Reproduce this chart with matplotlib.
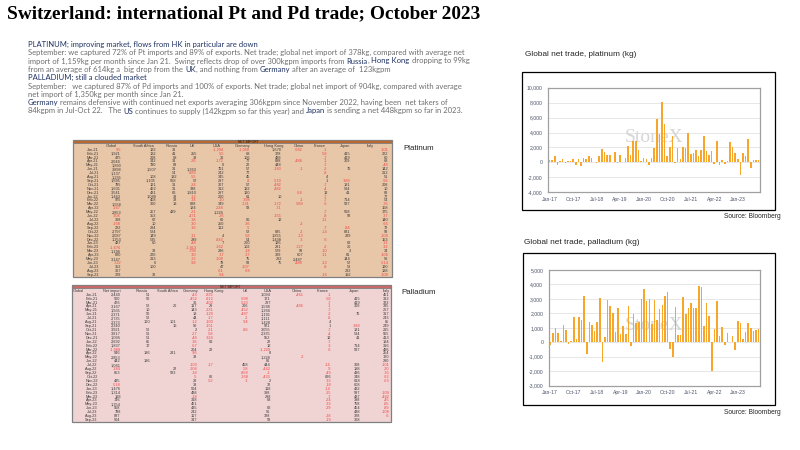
import matplotlib
matplotlib.use('Agg')
import matplotlib.pyplot as plt
from matplotlib.patches import Rectangle
from matplotlib.ticker import FuncFormatter

# ---------------- data ----------------
chart_months = 81  # Jan-17 .. Sep-23
x_tick_idx = [0, 9, 18, 27, 36, 45, 54, 63, 72]
x_tick_labels = ['Jan-17', 'Oct-17', 'Jul-18', 'Apr-19', 'Jan-20', 'Oct-20', 'Jul-21', 'Apr-22', 'Jan-23']

pt_net = [350, 350, 900, -300, 150, 450, -100, 150, 150, 450, -400, 450,
          -450, 600, 450, 850, 600, 100, -50, 800, 1800, 1450, 950, 950,
          50, 1350, -100, 1000, 50, 650, 2200, 1000, 2850, 2800, 1650, 150,
          650, 500, -300, 650, 1950, 5750, 3800, 8050, 5100, 850, 2050, 3600,
          -95, 1921, 475, 2046, 1893, 3898, 1137, 1295, 1695, 795, 1631, 3541,
          1463, 975, 1558, -167, 2853, -304, 308, -168, 222, 2797, 2087, 1253,
          487, -1676, 1196, 820, 3147, -722, 352, 367, 378]
pd_net = [-180, 670, 1010, 670, 90, 1220, 850, -140, 115, 1750, 250, 1770,
          1540, 3230, -810, 1380, 1220, 810, 1430, 3090, -1360, 390, 2900, 2530,
          2050, 740, 2370, 550, 1150, 580, 2510, -280, 1960, 1360, 1380, 2970,
          3660, 2830, 2970, 1270, 2900, 1540, 2330, 2600, 3230, 3500, -460, -1010,
          2440, 500, 476, 3167, 1935, 2371, 2735, 2373, 2340, 3921, 3817, 1096,
          2692, 1837, -1968, 946, 2853, 442, 1041, -184, 653, 0, 435, -518,
          1476, 1314, 198, 746, 1354, 958, 798, 837, 904]
pt_yticks = [-4000, -2000, 0, 2000, 4000, 6000, 8000, 10000]
pd_yticks = [-3000, -2000, -1000, 0, 1000, 2000, 3000, 4000, 5000]

table_months = ['Jan-21', 'Feb-21', 'Mar-21', 'Apr-21', 'May-21', 'Jun-21', 'Jul-21', 'Aug-21',
                'Sep-21', 'Oct-21', 'Nov-21', 'Dec-21', 'Jan-22', 'Feb-22', 'Mar-22', 'Apr-22',
                'May-22', 'Jun-22', 'Jul-22', 'Aug-22', 'Sep-22', 'Oct-22', 'Nov-22', 'Dec-22',
                'Jan-23', 'Feb-23', 'Mar-23', 'Apr-23', 'May-23', 'Jun-23', 'Jul-23', 'Aug-23', 'Sep-23']

pt_headers = ['Global', 'South Africa', 'Russia', 'UK', 'USA', 'Germany', 'Hong Kong',
              'China', 'France', 'Japan', 'Italy']
pt_rows = [
    ['-95', '122', '31', '', '-1,294', '-1,050', '1,678', '-682', '-1', '', '-101'],
    ['1,921', '132', '41', '255', '-55', '68', '378', '', '-58', '415', '222'],
    ['475', '208', '68', '38', '36', '106', '488', '', '-7', '419', '60'],
    ['2,046', '342', '31', '-26', '-172', '77', '888', '-488', '-1', '309', '68'],
    ['1,893', '780', '83', '', '0', '22', '448', '', '-7', '', '-48'],
    ['3,898', '1,507', '31', '1,363', '701', '57', '-183', '-1', '-2', '76', '142'],
    ['1,137', '', '54', '-883', '242', '77', '', '', '-8', '', '212'],
    ['1,295', '108', '182', '-55', '345', '45', '', '', '4', '', '51'],
    ['1,695', '1,105', '568', '57', '297', '-8', '-519', '', '1', '-389', '-58'],
    ['795', '121', '31', '-24', '307', '57', '-482', '', '-7', '181', '208'],
    ['1,631', '462', '31', '338', '312', '122', '-482', '', '-4', '534', '10'],
    ['3,541', '431', '66', '1,810', '297', '120', '', '-64', '12', '41', '83'],
    ['1,463', '1,088', '38', '-12', '200', '61', '10', '', '-7', '', '77'],
    ['975', '408', '38', '-34', '-10', '-398', '', '-1', '-7', '714', '54'],
    ['1,558', '300', '18', '888', '349', '-131', '-172', '-589', '-6', '587', '-76'],
    ['-167', '', '', '184', '-248', '58', '-71', '', '', '', '158'],
    ['2,853', '257', '429', '-21', '1,226', '', '', '', '-7', '568', '175'],
    ['-304', '353', '', '-471', '-26', '', '-155', '', '-8', '93', '-37'],
    ['308', '67', '', '-38', '80', '66', '12', '', '-11', '', '140'],
    ['-168', '10', '', '-30', '250', '-36', '', '-2', '', '', '-66'],
    ['222', '284', '', '-36', '112', '-5', '', '', '-7', '-84', '72'],
    ['2,797', '524', '', '', '', '52', '885', '-2', '-14', '881', '93'],
    ['2,087', '149', '', '-11', '4', '-58', '1,855', '-13', '', '289', '-109'],
    ['1,253', '535', '', '289', '-843', '54', '1,438', '-3', '-6', '', '153'],
    ['487', '60', '', '-48', '7', '260', '126', '', '', '62', '-31'],
    ['-1,676', '', '', '-1,813', '-162', '102', '281', '-727', '-2', '26', '-32'],
    ['1,196', '33', '', '-798', '286', '-18', '579', '93', '-10', '3', '34'],
    ['820', '220', '', '-30', '-37', '-37', '399', '607', '-11', '81', '-106'],
    ['3,147', '213', '', '-72', '-108', '75', '292', '2,487', '', '144', '96'],
    ['-722', '6', '', '-98', '79', '93', '75', '-488', '-13', '57', '-514'],
    ['352', '100', '', '', '47', '-107', '', '', '-8', '53', '120'],
    ['367', '', '', '', '-61', '-68', '', '', '', '232', '188'],
    ['378', '33', '', '', '-94', '', '', '', '-16', '192', '-108'],
]

pd_headers = ['Global', 'Net import', 'Russia', 'South Africa', 'Germany', 'Hong Kong', 'UK',
              'USA', 'China', 'France', 'Japan', 'Italy']
pd_rows = [
    ['2,440', '51', '', '-43', '-835', '', '1,094', '-461', '-1', '', '451'],
    ['500', '50', '', '-452', '-812', '-698', '171', '', '-58', '415', '313'],
    ['476', '', '', '36', '-402', '-523', '237', '', '-7', '419', '323'],
    ['3,167', '52', '26', '117', '29', '206', '1,588', '-486', '-1', '309', '335'],
    ['1,935', '10', '', '143', '-231', '-452', '1,266', '', '-7', '', '267'],
    ['2,371', '50', '', '18', '-129', '-487', '1,191', '', '-2', '76', '317'],
    ['2,735', '52', '', '44', '-17', '-2', '1,111', '', '-8', '', '243'],
    ['2,373', '160', '101', '-12', '-100', '-94', '1,428', '', '4', '', '85'],
    ['2,340', '', '16', '90', '-151', '', '921', '', '1', '-389', '249'],
    ['3,921', '52', '', '2', '-21', '-86', '3,055', '', '-7', '181', '215'],
    ['3,817', '51', '', '-27', '-58', '', '2,335', '', '-4', '534', '555'],
    ['1,096', '51', '', '-48', '-324', '', '552', '', '12', '41', '413'],
    ['2,692', '85', '', '-36', '63', '', '22', '', '-7', '', '184'],
    ['1,837', '17', '', '-67', '', '', '12', '', '-3', '714', '316'],
    ['-1,968', '', '', '204', '22', '', '-1,229', '', '-6', '587', '486'],
    ['946', '186', '281', '-96', '', '', '8', '', '', '', '254'],
    ['2,853', '', '', '38', '', '', '1,228', '-2', '', '', '170'],
    ['442', '186', '', '', '', '', '86', '', '', '', '290'],
    ['1,041', '', '', '-103', '-17', '458', '444', '', '-14', '308', '-101'],
    ['-184', '', '22', '-208', '', '-58', '-442', '', '-9', '188', '-20'],
    ['653', '', '583', '-18', '', '-858', '-1', '', '-49', '436', '-76'],
    ['', '', '', '-5', '86', '-168', '-433', '', '626', '348', '-62'],
    ['435', '', '', '28', '-52', '-3', '2', '', '-33', '618', '-63'],
    ['-518', '', '', '38', '', '', '32', '', '-18', '608', ''],
    ['1,476', '', '', '504', '', '', '118', '', '-14', '432', ''],
    ['1,314', '', '', '488', '', '', '398', '', '-25', '597', '-109'],
    ['198', '', '', '-18', '', '', '298', '', '-7', '437', '-482'],
    ['746', '', '', '318', '', '', '68', '', '-24', '398', '-45'],
    ['1,354', '', '', '451', '', '', '', '', '-33', '758', '-85'],
    ['958', '', '', '435', '', '', '62', '', '-29', '454', '-89'],
    ['798', '', '', '242', '', '', '96', '', '', '438', '-108'],
    ['837', '', '', '117', '', '', '328', '', '-28', '328', '-6'],
    ['904', '', '', '347', '', '', '58', '', '-19', '368', ''],
]

title_text = 'Switzerland: international Pt and Pd trade; October 2023'
NAVY = '#1F3262'
GREY = '#6E6E6E'
body_lines = [
    [('PLATINUM; improving market, flows from HK in particular are down', NAVY)],
    [('September: we captured 72% of Pt imports and 89% of exports. Net trade; global net import of 378kg, compared with average net', GREY)],
    [('import of 1,159kg per month since Jan 21.  Swing reflects drop of over 300kgpm imports from ', GREY), ('Russia', NAVY),
     (', ', GREY), ('Hong Kong', NAVY), (' dropping to 99kg', GREY)],
    [('from an average of 614kg a  big drop from the ', GREY), ('UK', NAVY), (', and nothing from ', GREY),
     ('Germany', NAVY), (' after an average of  123kgpm', GREY)],
    [('PALLADIUM; still a clouded market', NAVY)],
    [('September:   we captured 87% of Pd imports and 100% of exports. Net trade; global net import of 904kg, compared with average', GREY)],
    [('net import of 1,350kg per month since Jan 21.', GREY)],
    [('Germany', NAVY), (' remains defensive with continued net exports averaging 306kgpm since November 2022, having been  net takers of', GREY)],
    [('84kgpm in Jul-Oct 22.   The ', GREY), ('US', NAVY), (' continues to supply (142kgpm so far this year) and ', GREY),
     ('Japan', NAVY), (' is sending a net 448kgpm so far in 2023.', GREY)],
]

# ---------------- figure ----------------
W, H = 800, 450
fig = plt.figure(figsize=(8, 4.5), dpi=100)
fig.patch.set_facecolor('white')
bg = fig.add_axes([0, 0, 1, 1])
bg.set_xlim(0, W)
bg.set_ylim(H, 0)
bg.axis('off')
renderer = fig.canvas.get_renderer()


def measure(s, fs, **kw):
    t = bg.text(0, 0, s, fontsize=fs, **kw)
    w = t.get_window_extent(renderer).width
    t.remove()
    return w


def fit_fs(s, target, **kw):
    return 10 * target / measure(s, 10, **kw)


def px(x0, y0, x1, y1):
    return [x0 / W, 1 - y1 / H, (x1 - x0) / W, (y1 - y0) / H]


# title
tkw = dict(family='Liberation Serif', weight='bold')
tfs = fit_fs(title_text, 475, **tkw)
bg.text(7, 14, title_text, fontsize=tfs, color='black', va='center', ha='left', **tkw)

# body text
BODY = dict(family='Lato')
bfs = fit_fs(body_lines[1][0][0], 435, **BODY)
line_y = [44.3, 52.7, 61.0, 69.3, 77.7, 86.0, 94.3, 102.7, 111.0]
for segs, y in zip(body_lines, line_y):
    full = ''
    for s, c in segs:
        off = 0
        if full:
            off = measure(full + 'I', bfs, **BODY) - measure('I', bfs, **BODY)
        bg.text(28 + off, y, s, fontsize=bfs, color=c, va='center', ha='left', **BODY)
        full += s

# tables
TFS = 2.8
RED = '#F04545'
DARK = '#3A3A3A'
TF = dict(family='Liberation Sans')


def draw_table(rows, headers, hdr_x, num_x, date_x, box, strip_bottom, strip_color,
               body_color, strip_label_x, hdr_y, row_y0, row_dy):
    x0, y0, x1, y1 = box
    bg.add_patch(Rectangle((x0, y0), x1 - x0, y1 - y0, facecolor=body_color,
                           edgecolor='#808080', lw=0.9))
    bg.add_patch(Rectangle((x0, y0), x1 - x0, strip_bottom - y0, facecolor=strip_color,
                           edgecolor='#808080', lw=0.6))
    bg.text(strip_label_x, (y0 + strip_bottom) / 2 + 0.2, 'NET IMPORT', fontsize=2.4,
            ha='center', va='center', color='#2A1A10', **TF)
    for h, x in zip(headers, hdr_x):
        bg.text(x, hdr_y, h, fontsize=TFS, ha='center', va='center', color=DARK, **TF)
    for r, (m, vals) in enumerate(zip(table_months, rows)):
        y = row_y0 + r * row_dy
        bg.text(date_x, y, m, fontsize=TFS, ha='right', va='center', color=DARK, **TF)
        for v, x in zip(vals, num_x):
            if v:
                bg.text(x, y, v, fontsize=TFS, ha='right', va='center',
                        color=RED if v.startswith('-') else DARK, **TF)


draw_table(pt_rows, pt_headers,
           [111, 143.5, 172, 192, 217, 243, 274, 299, 320, 345, 370],
           [121, 156, 176.7, 196.7, 224, 250, 281.7, 303, 327.7, 350.7, 388.3],
           99, (72.7, 139.7, 391.7, 276.7), 143.0, '#B9682F', '#E8C6A8', 248,
           145.9, 149.7, (274.7 - 149.7) / 32)
draw_table(pd_rows, pd_headers,
           [78, 112, 142, 167.5, 190.5, 213.5, 245.5, 268, 297, 323, 354.5, 386.5],
           [120.7, 150, 176.7, 197.3, 213.3, 248.3, 270.7, 304, 331, 360, 389.3],
           97.7, (72.3, 284.7, 391.0, 421.7), 288.3, '#C96A6A', '#F0D3D3', 230,
           291.0, 294.7, (420.0 - 294.7) / 32)

LKW = dict(family='Liberation Sans')
lfs = fit_fs('Platinum', 31, **LKW)
bg.text(403, 149, 'Platinum', fontsize=lfs, color='#262626', va='center', ha='left', **LKW)
bg.text(401, 293, 'Palladium', fontsize=lfs, color='#262626', va='center', ha='left', **LKW)

# charts
ORANGE = '#F7A62A'
cfs = fit_fs('Global net trade, platinum (kg)', 112, **LKW)
sfs = fit_fs('Source: Bloomberg', 57, **LKW)


def draw_chart(values, yticks, outer, inner, title, title_xy, source_xy):
    ox0, oy0, ox1, oy1 = outer
    bg.add_patch(Rectangle((ox0, oy0), ox1 - ox0, oy1 - oy0, facecolor='white',
                           edgecolor='black', lw=0.9, zorder=0))
    bg.text(title_xy[0], title_xy[1], title, fontsize=cfs, color='#262626',
            va='center', ha='left', **LKW)
    bg.text(source_xy[0], source_xy[1], 'Source: Bloomberg', fontsize=sfs,
            color='#262626', va='center', ha='left', **LKW)
    ax = fig.add_axes(px(*inner))
    ax.set_facecolor('white')
    ax.bar(range(len(values)), values, width=0.6, color=ORANGE, zorder=3)
    ax.set_xlim(-0.5, len(values) - 0.5)
    ax.set_ylim(yticks[0], yticks[-1])
    ax.set_yticks(yticks)
    ax.yaxis.set_major_formatter(FuncFormatter(lambda v, p: f'{int(v):,}'))
    ax.set_xticks(x_tick_idx)
    ax.set_xticklabels(x_tick_labels)
    ax.tick_params(axis='both', length=0, labelsize=3.7, colors='#4A5468')
    ax.tick_params(axis='y', pad=4.2)
    ax.tick_params(axis='x', pad=3.2)
    for lab in ax.get_xticklabels() + ax.get_yticklabels():
        lab.set_family('Liberation Sans')
    ax.grid(axis='y', color='#E3E3E3', lw=0.6, zorder=0)
    ax.grid(axis='x', visible=False)
    for sp in ax.spines.values():
        sp.set_color('#A0A0A0')
        sp.set_linewidth(0.9)
    ax.text(0.5, 0.52, 'StoneX', transform=ax.transAxes, fontsize=14,
            family='Liberation Serif', color='#D6D6D6', ha='center', va='center',
            zorder=2)
    return ax


draw_chart(pt_net, pt_yticks, (521.7, 72.3, 775, 210), (548.3, 87.7, 760, 192.3),
           'Global net trade, platinum (kg)', (525, 55), (724, 216.7))
draw_chart(pd_net, pd_yticks, (522.7, 252.7, 775, 405), (549, 270, 760, 385.7),
           'Global net trade, palladium (kg)', (524, 242.3), (724, 413))

fig.savefig('out.png', dpi=100, facecolor='white')
